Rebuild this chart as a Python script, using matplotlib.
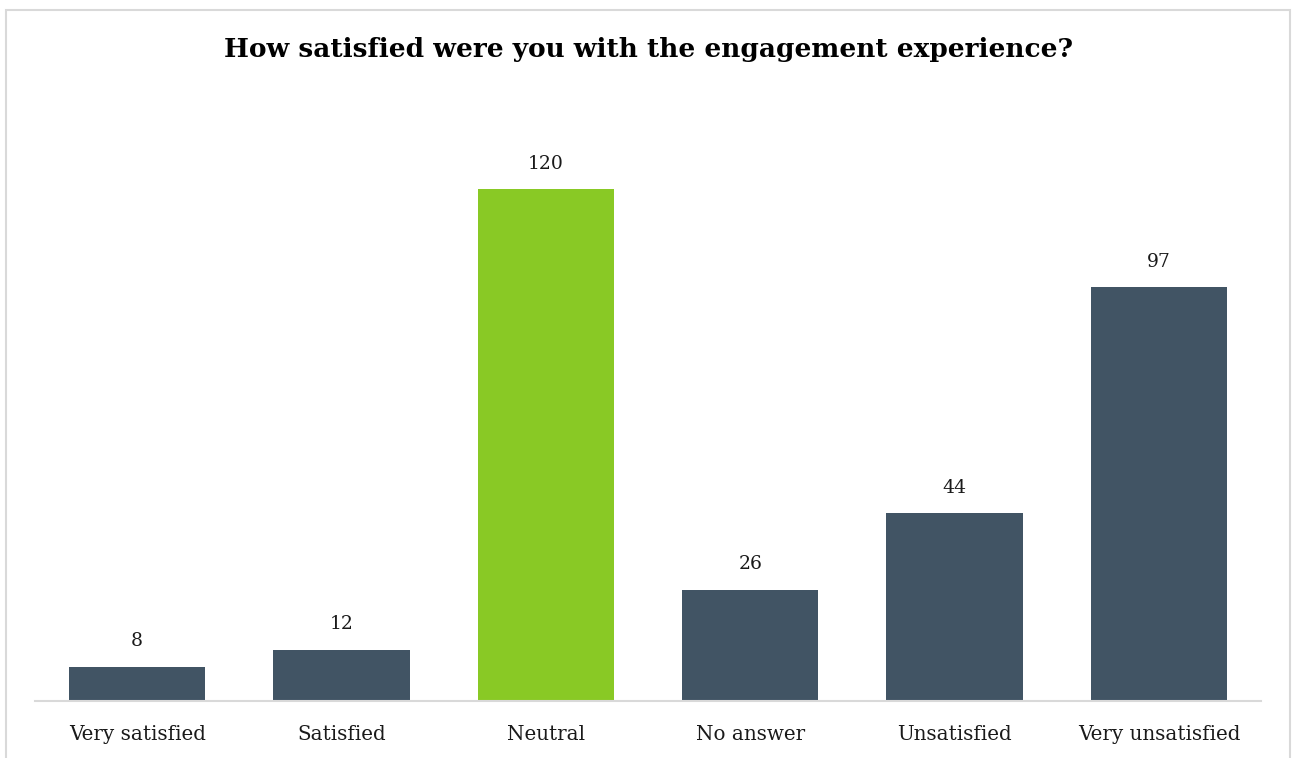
import matplotlib
matplotlib.use("Agg")
import matplotlib.pyplot as plt
from matplotlib.patches import Rectangle

# survey responses
categories = ["Very satisfied", "Satisfied", "Neutral", "No answer", "Unsatisfied", "Very unsatisfied"]
counts = [8, 12, 120, 26, 44, 97]
highlight = "Neutral"

dark = "#415464"
green = "#89c925"
title = "How satisfied were you with the engagement experience?"

plt.rcParams['font.family'] = ['DejaVu Serif']

fig = plt.figure(figsize=(12.96, 7.58), dpi=100)
# light frame round the chart
fig.patches.append(Rectangle((6/1296, -0.02), 1284/1296, 1.02 - 10/758, transform=fig.transFigure,
                             fill=False, edgecolor="#d9d9d9", linewidth=1.5))

ax = fig.add_axes([35/1296, 57/758, 1226/1296, 597/758])
x = range(len(categories))
colors = [green if c == highlight else dark for c in categories]
bars = ax.bar(x, counts, width=0.667, color=colors)

for b, v in zip(bars, counts):
    ax.annotate(str(v), (b.get_x() + b.get_width()/2, v), xytext=(0, 12), textcoords="offset points",
                ha="center", va="bottom", fontsize=13.5, color="#1a1a1a")

ax.set_xlim(-0.5, len(categories) - 0.5)
ax.set_ylim(0, 140)
ax.set_xticks(list(x))
ax.set_xticklabels(categories, fontsize=14.3, color="#1a1a1a")
ax.tick_params(axis="x", length=0, pad=17)
ax.set_yticks([])
for s in ["top", "right", "left"]:
    ax.spines[s].set_visible(False)
ax.spines["bottom"].set_color("#d9d9d9")
ax.spines["bottom"].set_linewidth(1.5)

fig.text(0.5, 1 - 50/758, title, ha="center", va="center", fontsize=19, fontweight="bold", color="black")

fig.savefig("out.png", dpi=100)
